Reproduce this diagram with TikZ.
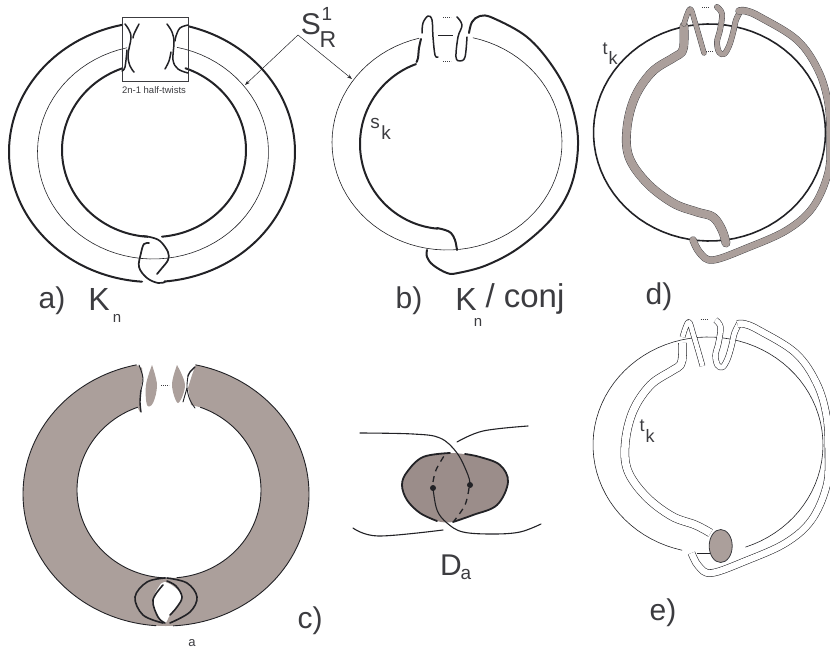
\documentclass[tikz,border=0pt]{standalone}
\usepackage{fontspec}
\setmainfont{Liberation Sans}
\usetikzlibrary{arrows.meta,shapes.geometric}
\definecolor{ink}{HTML}{222226}
\definecolor{txt}{HTML}{3C3C40}
\definecolor{bandgray}{HTML}{AB9F9B}
\definecolor{diskgray}{HTML}{9B8D8A}
\newcommand\earc[6]{plot[domain=#5:#6,samples=80] ({#1+#3*cos(\x)},{#2-#4*sin(\x)})}
\newcommand\sm[1]{plot[smooth,tension=.6] coordinates {#1}}
\newcommand\lbl[4]{\node[lab,font=\fontsize{#3}{#3}\selectfont] (#1) at (#2) {#4};}
% band of panels d and e, in the coordinates of panel d
\newcommand\bandA{\sm{(726,243)(722,230)(713,217)(697,212)(673,203)(647,183)(629,157)(627,128)(635,97)(652,72)(673,58)(682,52)(684,42)(684,26)}}
\newcommand\peakA{\sm{(684,24)(690,9)(695,22)(704,53)}}
\newcommand\loopB{\sm{(717,7)(722,14)(720,30)(717,42)(719,52)(724,54)(729,46)(733,33)(736,20)(741,10)}}
\newcommand\bandB{\sm{(739,11)(746,11)(760,17)(797,40)(818,70)(828,103)(830,140)(828,173)(813,207)(787,230)(747,248)(713,260)(700,253)(693,240)}}
\tikzset{
  lab/.style={text=txt,inner sep=0pt,anchor=center},
  thickline/.style={draw=ink,line width=2pt,line cap=round,line join=round},
  twistline/.style={draw=ink,line width=1.5pt,line cap=round,line join=round},
  thinline/.style={draw=ink,line width=.6pt},
  dots/.style={draw=txt,line width=.5pt,dash pattern=on .8pt off 1.2pt},
  pointer/.style={draw=ink,line width=.5pt,-{Stealth[length=5pt,width=3.5pt]}},
  bandbase/.style={draw=txt,line width=#1+.8pt,line cap=round,line join=round},
  bandtop/.style={draw=bandgray,line width=#1,line cap=round,line join=round},
  hollow/.style={draw=ink,line width=.55pt,double=white,double distance=#1,line join=round},
  outlinec/.style={draw=ink,line width=.9pt,line cap=round},
}
\begin{document}
\begin{tikzpicture}[x=1pt,y=-1pt]
\useasboundingbox (0,0) rectangle (830,653);
\clip (0,0) rectangle (830,653);
% ---------- panel a
\draw[thinline] \earc{153}{152}{115.5}{107}{103}{438};
\draw[thickline] \earc{152}{152}{143}{130}{102}{266};
\draw[thickline] \earc{152}{152}{143}{130}{75}{-85};
\draw[thickline] \earc{154}{150}{92}{87}{110}{266};
\draw[thickline] \earc{154}{150}{92}{87}{70}{-85};
\draw[draw=txt,line width=.7pt] (122.5,17.5) rectangle (188.5,81);
\draw[twistline] \sm{(125,24)(129,30)(131,38)(128,55)(130,66)(134,72)};
\draw[twistline] \sm{(122,71)(125,67)(127,50)};
\draw[twistline] \sm{(139,24)(134,34)(133,38)};
\draw[twistline] \sm{(167,24)(172,32)(174,42)(173,60)(178,69)(188,73)};
\draw[twistline] \sm{(188,25)(180,28)(176,36)(175,41)};
\draw[twistline] \sm{(165,69)(169,61)(171,52)};
\lbl{twists}{154,90}{9.5}{2n-1 half-twists}
\draw[thickline,line width=1.7pt] \sm{(143,236)(150,237)(160,241)(168,252)(168,260)(162,268)(157,274)};
\draw[thickline,line width=1.7pt] \sm{(149,243)(144,244)(141,253)(139,267)(147,278)(158,283)(165,282)};
\lbl{la}{52,301}{30}{a)}
\lbl{lKa}{99,299}{32}{K}
\lbl{lna}{117,318}{15}{n}
% S1R
\lbl{S}{311,24}{30}{S}
\lbl{one}{327,14}{19}{1}
\lbl{R}{328,40}{23}{R}
\coordinate (fork) at (298,35);
\coordinate (pa) at (245,85);
\coordinate (pb) at (352,79);
\draw[pointer] (fork) -- (pa);
\draw[pointer] (fork) -- (pb);
% ---------- panel b
\draw[thinline] \earc{447}{142.5}{115}{107.5}{104}{437};
\draw[thinline] (438,35) -- (453,35);
\draw[thickline] \earc{445}{144}{85}{85}{110}{265};
\draw[thickline] \sm{(421,39)(419,48)(418,58)(416.5,62)};
\draw[thickline] \sm{(437,228)(445,230)(451,233)(455,240)(457,250)};
\draw[twistline] \sm{(422,33)(423,23)(428,16)(432,20)(433,37)(435,55)(438,57)};
\draw[twistline] \sm{(457,17)(462,25)(458,37)(456,57)(460,61)(465,57)(467,37)};
\draw[thickline] \sm{(469,33)(472,22)(480,16)(493,18)(527,37)(553,67)(570,100)(578,140)(572,183)(553,217)(520,247)(487,265)(458,273)(447,273)(433,265)(427,257)(427,250)};
\draw[dots] (443,17) -- (451,17);
\draw[dots] (443,61) -- (451,61);
\lbl{s}{375,123}{19}{s}
\lbl{ksb}{386,133}{19}{k}
\lbl{lb}{409,301}{30}{b)}
\lbl{lKb}{466,299}{32}{K}
\lbl{lnb}{478,322}{15}{n}
\lbl{conj}{525,299}{33}{/ conj}
% ---------- panel d
\draw[draw=ink,line width=1.6pt] \earc{709.5}{132.5}{116}{108.5}{0}{360};
\draw[bandbase=8pt] \bandA; \draw[bandtop=8pt] \bandA;
\draw[bandbase=4.5pt] \peakA; \draw[bandtop=4.5pt] \peakA;
\draw[bandbase=5pt] \loopB; \draw[bandtop=5pt] \loopB;
\draw[bandbase=6.5pt] \bandB; \draw[bandtop=6.5pt] \bandB;
\draw[dots] (702,7) -- (709,7);
\draw[dots] (706,51) -- (713,51);
\lbl{t}{605,49}{18}{t}
\lbl{kd}{613,58}{18}{k}
\lbl{ld}{659,297}{30}{d)}
% ---------- panel c
\fill[bandgray] \earc{166}{494}{143}{132}{102}{272} -- plot[domain=272:110,samples=80] ({169+92*cos(\x)},{490-88*sin(\x)}) -- (140,412) -- (140,392) -- (143,378) -- (142,368) -- cycle;
\fill[bandgray] \earc{166}{494}{143}{132}{78}{-90} -- plot[domain=-90:70,samples=80] ({169+92*cos(\x)},{490-88*sin(\x)}) -- (191,405) -- (188,388) -- (192,375) -- cycle;
\fill[white] \sm{(165,582)(160,585)(153,600)(158,617)(165,623)(170,615)(182,597)(173,586)(165,582)} -- cycle;
\fill[bandgray] \sm{(152,365)(157,385)(153,403)(147,405)(146,385)(152,365)} -- cycle;
\fill[bandgray] \sm{(177,365)(185,385)(178,403)(172,385)(177,365)} -- cycle;
\draw[outlinec] \earc{166}{494}{143}{132}{102}{266};
\draw[outlinec] \earc{166}{494}{143}{132}{78}{-87};
\draw[outlinec] \earc{169}{490}{92}{88}{110}{268};
\draw[outlinec] \earc{169}{490}{92}{88}{70}{-85};
\draw[outlinec] \sm{(139,365)(143,378)(141,390)};
\draw[outlinec,line width=1.4pt] \sm{(141,390)(140,402)(141,412)};
\draw[outlinec,line width=1.4pt] \sm{(195,367)(190,372)(188,376)};
\draw[outlinec] \sm{(188,376)(187,388)(190,400)(195,408)};
\draw[outlinec] \sm{(187,388)(183,402)};
\draw[thickline,line width=1.6pt] \sm{(165,578)(147,582)(135,597)(143,615)(163,623)};
\draw[thickline,line width=1.6pt] \sm{(167,578)(187,583)(197,597)(190,612)(170,623)};
\draw[thickline,line width=1.6pt] \sm{(163,585)(153,600)(158,617)(165,623)};
\draw[thickline,line width=1.6pt] \sm{(167,581)(176,586)(182,597)(177,607)(170,615)};
\draw[dots] (161,385) -- (169,385);
\lbl{lc}{310,621}{30}{c)}
\lbl{lasub}{192,643}{13}{a}
% ---------- disk Da
\fill[diskgray] \sm{(402,485)(407,472)(423,457)(450,453)(480,457)(500,465)(508,482)(497,505)(473,515)(453,522)(437,521)(420,513)(407,500)(402,485)} -- cycle;
\draw[thickline,line width=1.8pt] \sm{(437,521)(420,513)(407,500)(402,485)(407,472)(423,457)(450,453)};
\draw[thickline,line width=1.8pt] \sm{(465,454)(480,457)(500,465)(508,482)(497,505)(473,515)(453,522)};
\draw[thickline,line width=1.1pt] \sm{(360,433)(413,434)(440,438)(457,453)(468,475)(470,485)};
\draw[thickline,line width=1.1pt] \sm{(433,488)(437,510)(447,523)(463,532)(493,534)(520,532)(541,524)};
\draw[thickline,line width=1.1pt] \sm{(457,442)(483,431)(528,426)};
\draw[thickline,line width=1.1pt] \sm{(353,528)(378,536)(443,530)};
\draw[draw=ink,line width=1.3pt,dash pattern=on 6pt off 5pt] \sm{(433,482)(436,470)(444,456)};
\draw[draw=ink,line width=1.3pt,dash pattern=on 6pt off 5pt] \sm{(469,488)(465,505)(454,521)};
\node[circle,fill=ink,minimum size=6pt,inner sep=0pt] (p1) at (470,485) {};
\node[circle,fill=ink,minimum size=6pt,inner sep=0pt] (p2) at (433,488) {};
\lbl{D}{451,565}{30}{D}
\lbl{asub}{466,574}{19}{a}
% ---------- panel e
\draw[thinline] \earc{708}{445}{115}{108}{-71}{257};
\begin{scope}[shift={(-1.5,313)}]
\draw[hollow=7.5pt] \sm{(712,220)(697,212)(673,203)(647,183)(629,157)(627,128)(635,97)(652,72)(673,58)(682,52)(684,42)(684,30)};
\draw[hollow=4.5pt] \peakA;
\draw[hollow=5pt] \loopB;
\draw[hollow=6.5pt] \bandB;
\draw[dots] (702,6) -- (709,6);
\end{scope}
\draw[thinline] (697,553) -- (710,553);
\node[ellipse,draw=txt,fill=bandgray,line width=.8pt,minimum width=23pt,minimum height=33pt,inner sep=0pt] (disk) at (720.7,546) {};
\lbl{te}{642,426}{18}{t}
\lbl{ke}{650,436}{18}{k}
\lbl{le}{663,613}{30}{e)}
\end{tikzpicture}
\end{document}
